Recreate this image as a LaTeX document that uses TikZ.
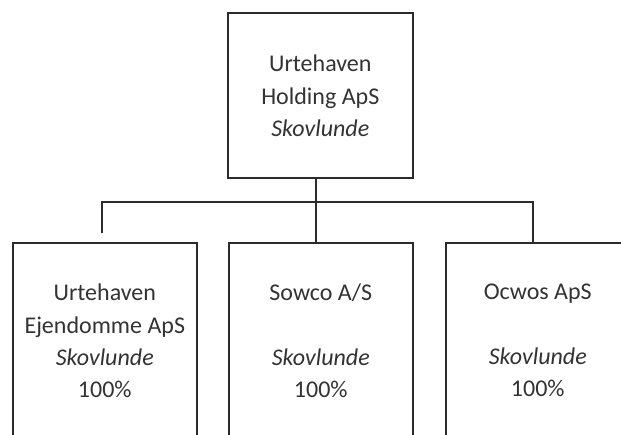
\documentclass[tikz,border=0pt]{standalone}
\usepackage{fontspec}
\setmainfont{Carlito}
\usetikzlibrary{calc,positioning}

\definecolor{linegray}{HTML}{2B2B2B}
\definecolor{textgray}{HTML}{333333}

\tikzset{
  firma/.style={draw=linegray,line width=1.6pt,rectangle,inner sep=0pt,
      anchor=north west,minimum width=184pt},
  navn/.style={anchor=north,inner sep=0pt,align=center,text=textgray,
      font=\fontsize{24}{32.3}\selectfont},
  streg/.style={draw=linegray,line width=1.6pt},
}

\begin{document}
\begin{tikzpicture}[x=1pt,y=-1pt]
  \useasboundingbox (0,0) rectangle (621,434);
  \clip (0,0) rectangle (621,434);

  % boxes
  \node [firma,minimum width=185pt,minimum height=165pt] (hold) at (227,12) {};
  \node [firma,minimum height=210pt] (ejd) at (12,242) {};
  \node [firma,minimum height=210pt] (sowco) at (228,242) {};
  \node [firma,minimum height=210pt] (ocwos) at (445,242) {};

  % texts
  \node [navn,below=43pt of hold.north] (t-hold)
      {Urtehaven\\Holding ApS\\\textit{Skovlunde}};
  \node [navn,below=42pt of ejd.north] (t-ejd)
      {Urtehaven\\Ejendomme ApS\\\textit{Skovlunde}\\100\%};
  \node [navn,below=42pt of sowco.north] (t-sowco)
      {Sowco A/S\\\mbox{}\\\textit{Skovlunde}\\100\%};
  \node [navn,below=42pt of ocwos.north] (t-ocwos)
      {Ocwos ApS\\\mbox{}\\\textit{Skovlunde}\\100\%};

  % connectors
  \coordinate (knude) at (316,202);
  \coordinate (venstre) at (102,202);
  \coordinate (hoejre) at (533,202);
  \coordinate (ejd-top) at (102,233);

  \draw [streg] (hold.south -| knude) -- (sowco.north -| knude);
  \draw [streg] (ejd-top) -- (venstre) -- (hoejre) -- (ocwos.north -| hoejre);
\end{tikzpicture}
\end{document}
